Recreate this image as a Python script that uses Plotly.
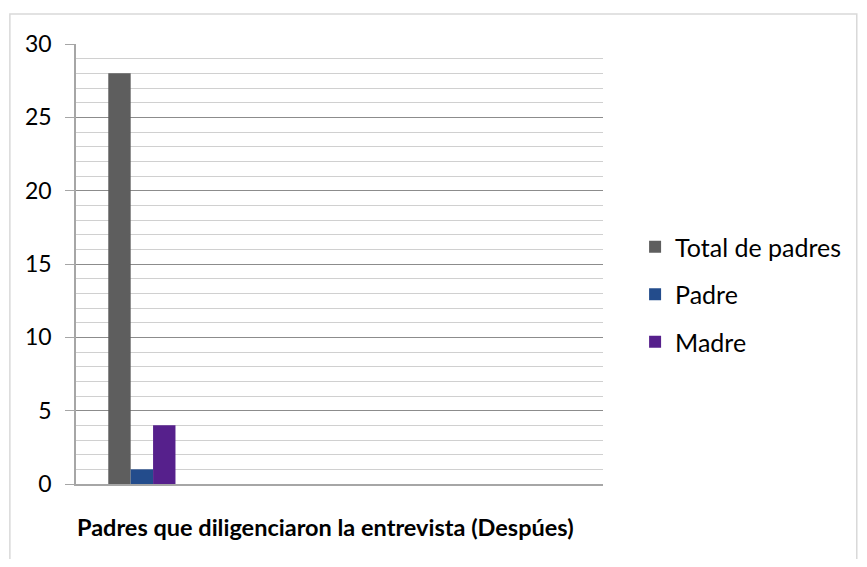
import plotly.graph_objects as go

categories = ["Padres que diligenciaron la entrevista (Despúes)"]
series_names = ["Total de padres", "Padre", "Madre"]
total_de_padres = [28]
padre = [1]
madre = [4]
y_ticks = [0, 5, 10, 15, 20, 25, 30]

colors = ["#5e5e5e", "#234c8c", "#56208c"]
values = [total_de_padres, padre, madre]

FONT = "Lato"
OFF = 8  # page body margin
W, H = 867 - 2 * OFF, 567 - 2 * OFF
L, R, T, B = 76 - OFF, 618 - OFF, 44 - OFF, 484 - OFF

fig = go.Figure()
for name, vals, col in zip(series_names, values, colors):
    fig.add_trace(go.Bar(
        x=categories, y=vals, name=name, marker=dict(color=col, line=dict(width=0)),
        legendgroup=name,
    ))

pw, ph = R - L, B - T
fig.update_layout(
    width=W, height=H,
    margin=dict(l=L, r=W - R, t=T, b=H - B, pad=0),
    paper_bgcolor="white", plot_bgcolor="white",
    barmode="group", bargap=0.49, bargroupgap=0,
    font=dict(family=FONT, size=24, color="#000000"),
    showlegend=True,
    legend=dict(x=(651 - 76) / pw, y=(484 - 224) / ph, xanchor="left", yanchor="top",
                font=dict(size=25), tracegroupgap=12, itemwidth=30,
                bgcolor="rgba(0,0,0,0)"),
    xaxis=dict(type="category", range=[-0.5, 3.5], showticklabels=False, ticks="",
               showgrid=False, showline=True, linecolor="#a6a6a6", linewidth=1.5,
               zeroline=False),
    yaxis=dict(range=[0, 30], tickvals=y_ticks, ticks="outside", ticklen=9,
               tickcolor="#a6a6a6", showline=True, linecolor="#a6a6a6", linewidth=1.5,
               showgrid=True, gridcolor="#8c8c8c", gridwidth=1.3, zeroline=False,
               ticklabelstandoff=9,
               minor=dict(dtick=1, showgrid=True, gridcolor="#d0d0d0", gridwidth=1.3,
                          ticks=""),
               tickfont=dict(size=23)),
    annotations=[dict(text="<b>" + categories[0] + "</b>", xref="paper", yref="paper",
                      x=(333 - 76) / pw, y=(484 - 527) / ph, xanchor="center", yanchor="middle",
                      showarrow=False, font=dict(size=23.5))],
    shapes=[dict(type="rect", xref="paper", yref="paper",
                 x0=(0 - L) / pw, x1=(W + 20 - L) / pw,
                 y0=(B - H - 20) / ph, y1=(B - (14 - OFF)) / ph,
                 line=dict(color="#d9d9d9", width=1.5), fillcolor="rgba(0,0,0,0)",
                 layer="below")],
)
fig.write_html("out.html")
